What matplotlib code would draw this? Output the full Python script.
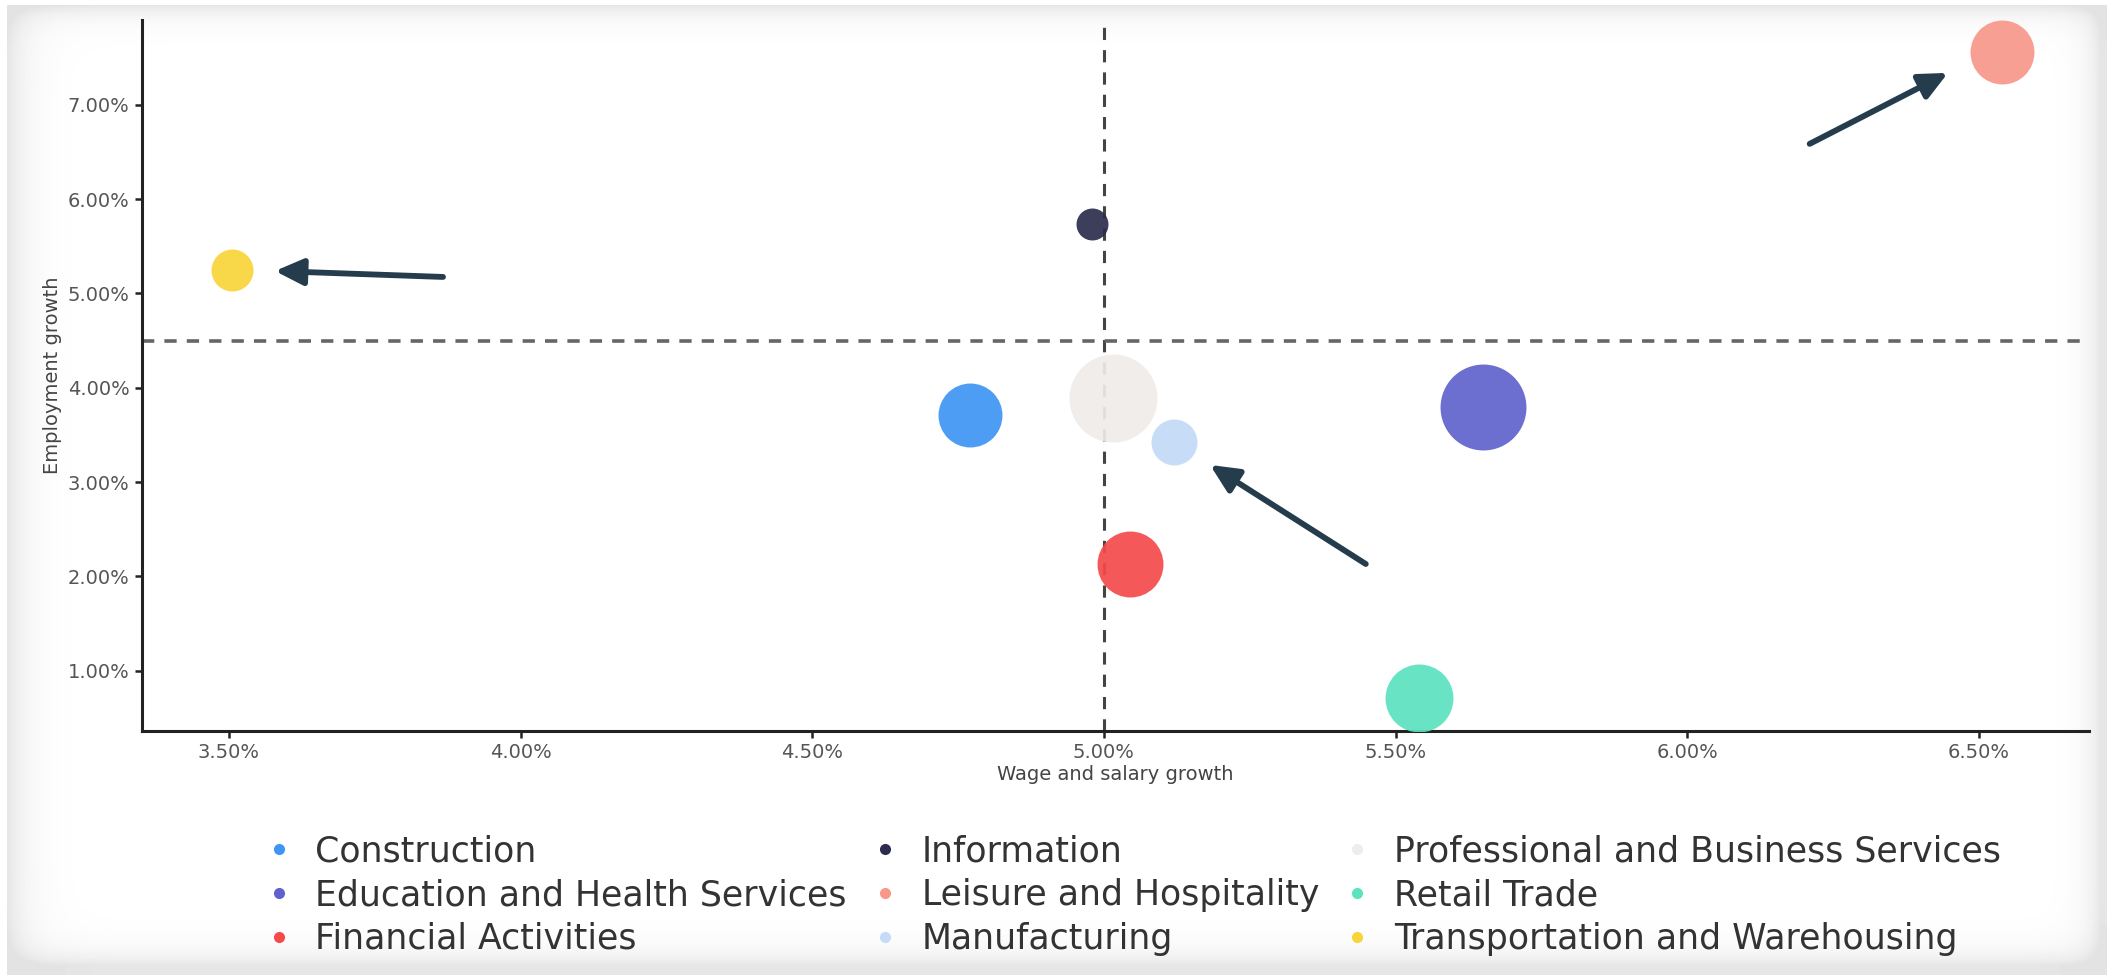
import numpy as np
import matplotlib.pyplot as plt
from matplotlib.lines import Line2D

# Data
sectors = ["Construction", "Education and Health Services", "Financial Activities",
           "Information", "Leisure and Hospitality", "Manufacturing",
           "Professional and Business Services", "Retail Trade",
           "Transportation and Warehousing"]
wage_growth = [4.77, 5.65, 5.045, 4.98, 6.54, 5.12, 5.015, 5.54, 3.505]
emp_growth = [3.71, 3.80, 2.13, 5.74, 7.56, 3.42, 3.89, 0.71, 5.25]
bubble = [1024, 1849, 1089, 256, 1024, 529, 1936, 1156, 441]
colors = ["#3f95f4", "#5f62cc", "#f44a4a", "#2c2c4e", "#f8978a",
          "#c3dbf7", "#efecea", "#5be2bf", "#f8d438"]

wage_ref = 5.0
emp_ref = 4.5
xticks = [3.5, 4.0, 4.5, 5.0, 5.5, 6.0, 6.5]
yticks = [1, 2, 3, 4, 5, 6, 7]

# arrows: (tail, tip) in data units
arrows = [((3.867, 5.174), (3.579, 5.237)),
          ((6.210, 6.585), (6.447, 7.337)),
          ((5.449, 2.131), (5.182, 3.181))]

fig = plt.figure(figsize=(21.07, 9.75), dpi=100)

# soft grey frame like the screenshot
H, W = 975, 2107
yy, xx = np.mgrid[0:H, 0:W]
dl = np.clip(xx - 7, 0, None)
dt = np.clip(yy - 5, 0, None)
dr = np.clip(2100 - xx, 0, None)
db = np.clip(965 - yy, 0, None)
shade = 1 - 0.10 * (np.exp(-dl / 20) + np.exp(-dt / 12) + np.exp(-dr / 14) + np.exp(-db / 14))
shade = np.clip(shade, 0.89, 1)
shade[:, :7] = 1
shade[:5, :] = 1
bg = fig.add_axes([0, 0, 1, 1], zorder=-10)
bg.imshow(shade, cmap="gray", vmin=0, vmax=1, aspect="auto", interpolation="bilinear")
bg.axis("off")

ax = fig.add_axes([0.0674, 0.2503, 0.9241, 0.7292])
ax.patch.set_alpha(0)

ax.axvline(wage_ref, color="#444444", lw=2.2, ls=(0, (4, 3.3)), zorder=1)
ax.axhline(emp_ref, color="#666666", lw=2.6, ls=(0, (3.4, 2.8)), zorder=1)

for name, x, y, b, c in zip(sectors, wage_growth, emp_growth, bubble, colors):
    ax.scatter(x, y, s=b * 2.07, color=c, alpha=0.92, linewidths=0, zorder=3, label=name)

for tail, tip in arrows:
    ax.annotate("", xy=tip, xytext=tail,
                arrowprops=dict(arrowstyle="-|>,head_length=0.85,head_width=0.4",
                                lw=4.2, color="#243c4c", mutation_scale=20,
                                shrinkA=0, shrinkB=0), zorder=4)

ax.set_xlim(3.351, 6.689)
ax.set_ylim(0.361, 7.898)
ax.set_xticks(xticks)
ax.set_yticks(yticks)
ax.set_xticklabels(["{:.2f}%".format(v) for v in xticks])
ax.set_yticklabels(["{:.2f}%".format(v) for v in yticks])
ax.tick_params(length=5, width=1.8, color="#222222", labelsize=14,
               labelcolor="#555555", pad=4)

for s in ["top", "right"]:
    ax.spines[s].set_visible(False)
for s in ["left", "bottom"]:
    ax.spines[s].set_linewidth(2.2)
    ax.spines[s].set_color("#222222")

ax.set_xlabel("Wage and salary growth", fontsize=14, color="#444444", labelpad=2)
ax.set_ylabel("Employment growth", fontsize=14, color="#444444", labelpad=4)

handles = [Line2D([], [], marker="o", ls="", markersize=8, color=c, markeredgewidth=0)
           for c in colors]
fig.legend(handles, sectors, ncol=3, loc="center", bbox_to_anchor=(0.5385, 0.082),
           frameon=False, fontsize=25, labelcolor="#333333", handlelength=0.6,
           handletextpad=0.75, columnspacing=0.8, labelspacing=0.28)

fig.savefig("out.png", dpi=100)
